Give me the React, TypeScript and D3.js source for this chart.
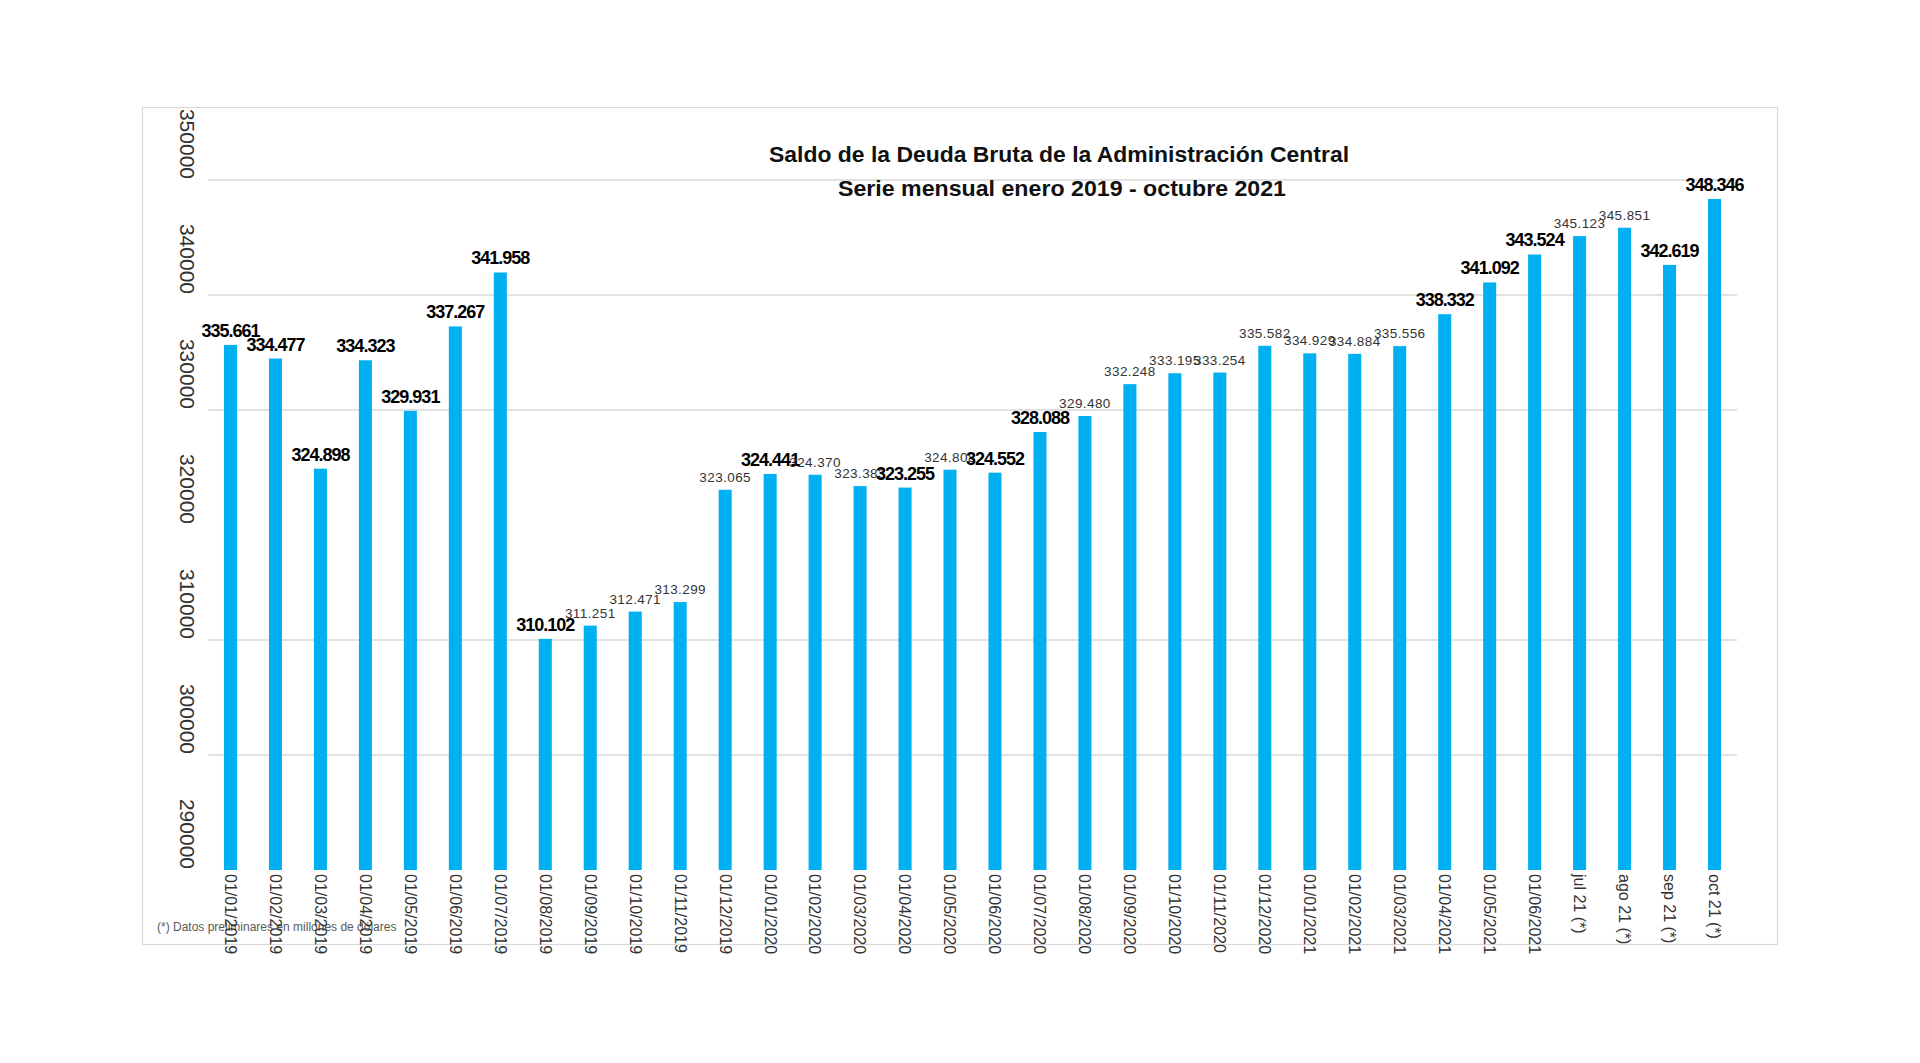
import React from "react";
import * as d3 from "d3";

const categories = [
  "01/01/2019","01/02/2019","01/03/2019","01/04/2019","01/05/2019","01/06/2019",
  "01/07/2019","01/08/2019","01/09/2019","01/10/2019","01/11/2019","01/12/2019",
  "01/01/2020","01/02/2020","01/03/2020","01/04/2020","01/05/2020","01/06/2020",
  "01/07/2020","01/08/2020","01/09/2020","01/10/2020","01/11/2020","01/12/2020",
  "01/01/2021","01/02/2021","01/03/2021","01/04/2021","01/05/2021","01/06/2021",
  "jul 21 (*)","ago 21 (*)","sep 21 (*)","oct 21 (*)",
];

const values = [
  335661, 334477, 324898, 334323, 329931, 337267,
  341958, 310102, 311251, 312471, 313299, 323065,
  324441, 324370, 323383, 323255, 324808, 324552,
  328088, 329480, 332248, 333195, 333254, 335582,
  334929, 334884, 335556, 338332, 341092, 343524,
  345123, 345851, 342619, 348346,
];

// true = bold condensed label style, false = light label style
const boldLabel = [
  true, true, true, true, true, true,
  true, true, false, false, false, false,
  true, false, false, true, false, true,
  true, false, false, false, false, false,
  false, false, false, true, true, true,
  false, false, true, true,
];

const yTicks = [290000, 300000, 310000, 320000, 330000, 340000, 350000];
const gridTicks = [300000, 310000, 330000, 340000, 350000];

const titleLine1 = "Saldo de la Deuda Bruta de la Administración Central";
const titleLine2 = "Serie mensual enero 2019 - octubre 2021";
const footnote = "(*) Datos preliminares en millones de dólares";

const W = 1920;
const H = 1063;

const fmt = (v: number) => {
  const s = String(v);
  return s.slice(0, s.length - 3) + "." + s.slice(s.length - 3);
};

export default function App() {
  const x = d3
    .scaleBand<string>()
    .domain(categories)
    .range([208, 1737])
    .paddingInner(0.71)
    .paddingOuter(0.355);
  const y = d3.scaleLinear().domain([290000, 350000]).range([870, 180]);
  const font = "Arial, 'Liberation Sans', sans-serif";

  return (
    <div style={{ position: "absolute", left: 0, top: 0 }}>
      <svg width={W} height={H} style={{ display: "block", background: "#fff" }}>
        {/* frame */}
        <rect x={142.5} y={107.5} width={1635} height={837} fill="none" stroke="#d9d9d9" strokeWidth={1.2} />

        {/* gridlines */}
        {gridTicks.map((t) => (
          <line key={t} x1={208} x2={1737} y1={y(t)} y2={y(t)} stroke="#d9d9d9" strokeWidth={1.3} />
        ))}

        {/* y tick labels (rotated) */}
        {yTicks.map((t) => (
          <text
            key={t}
            transform={`translate(187,${y(t) - 1}) rotate(90)`}
            textAnchor="end"
            dy="0.35em"
            fontFamily={font}
            fontSize={21}
            fill="#333"
          >
            {t}
          </text>
        ))}

        {/* title */}
        <text x={1059} y={162} textAnchor="middle" fontFamily={font} fontWeight="bold" fontSize={22}
          textLength={580} lengthAdjust="spacingAndGlyphs" fill="#111">
          {titleLine1}
        </text>
        <text x={1062} y={196} textAnchor="middle" fontFamily={font} fontWeight="bold" fontSize={22}
          textLength={448} lengthAdjust="spacingAndGlyphs" fill="#111">
          {titleLine2}
        </text>

        {/* bars */}
        {categories.map((c, i) => (
          <rect
            key={c}
            x={x(c)}
            y={y(values[i])}
            width={x.bandwidth()}
            height={y(290000) - y(values[i])}
            fill="#00B0F0"
          />
        ))}

        {/* footnote */}
        <text x={157} y={931} fontFamily={font} fontSize={12} fill="#595959">
          {footnote}
        </text>

        {/* x labels */}
        {categories.map((c) => (
          <text
            key={c}
            transform={`translate(${(x(c) as number) + x.bandwidth() / 2},874) rotate(90)`}
            dy="0.35em"
            fontFamily={font}
            fontSize={16}
            fill="#333"
          >
            {c}
          </text>
        ))}

        {/* data labels */}
        {categories.map((c, i) => (
          <text
            key={c}
            x={(x(c) as number) + x.bandwidth() / 2}
            y={y(values[i]) - 8}
            textAnchor="middle"
            fontFamily={font}
            fontWeight={boldLabel[i] ? "bold" : "normal"}
            fontSize={boldLabel[i] ? 18 : 13.5}
            letterSpacing={boldLabel[i] ? -1 : 0.4}
            fill={boldLabel[i] ? "#000" : "#333"}
          >
            {fmt(values[i])}
          </text>
        ))}
      </svg>
    </div>
  );
}
